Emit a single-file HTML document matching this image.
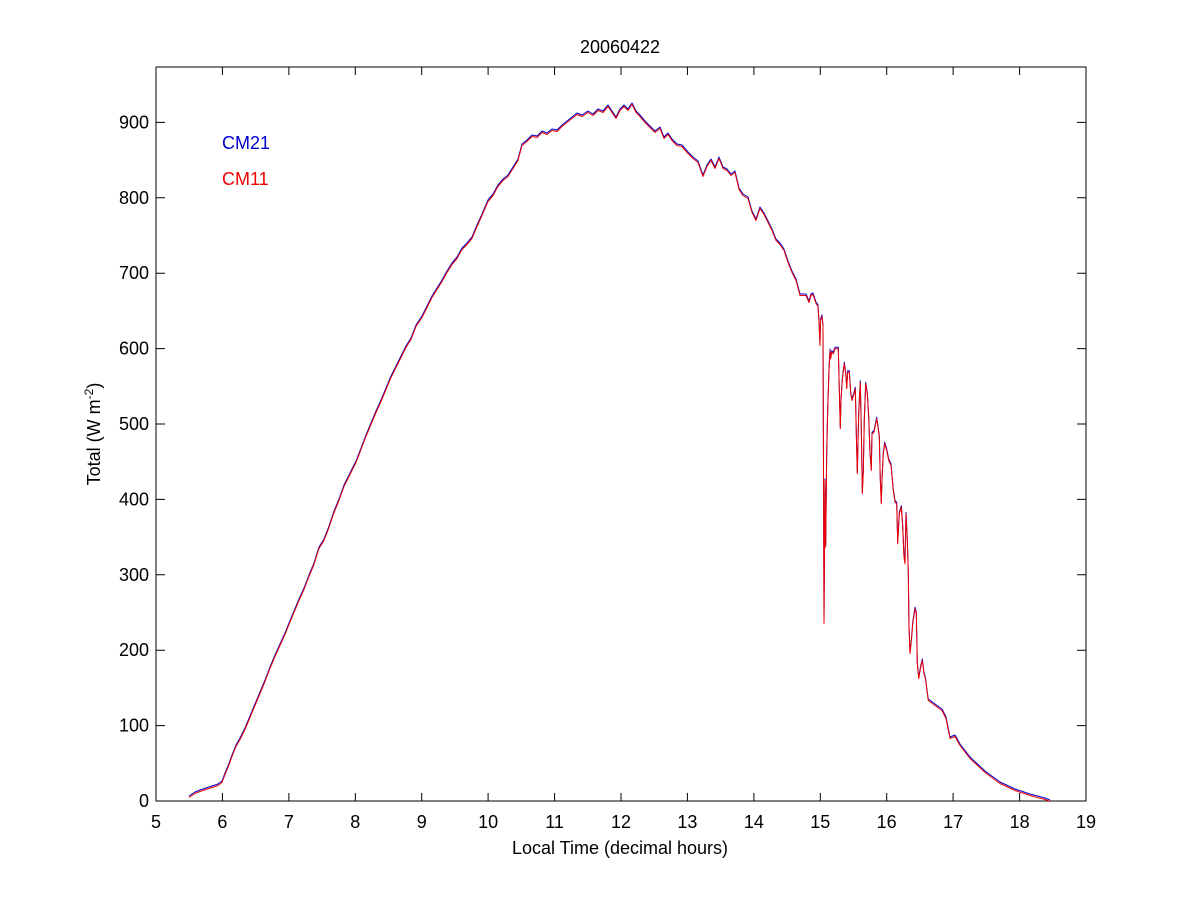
<!DOCTYPE html>
<html><head><meta charset="utf-8"><style>
body{margin:0;background:#fff;}
svg{display:block;font-family:"Liberation Sans",Arial,sans-serif;}
</style></head><body>
<svg width="1200" height="900" viewBox="0 0 1200 900">
<defs>
<polyline id="c" points="189,797 195,793 200,791 206,789 212,787 218,785 222,782 225,774 228,767 232,756 236,746 240,739 245,729 250,717 255,705 260,693 265,681 270,668 275,656 280,645 285,634 289,624 294,612 299,600 304,589 309,576 314,564 319,548 324,540 329,527 334,512 339,500 344,486 350,474 356,462 361,449 366,436 371,424 376,412 381,401 386,389 391,377 396,367 401,357 406,347 411,339 416,326 422,317 427,307 432,297 437,289 442,281 447,272 452,264 457,258 462,249 467,244 472,238 477,226 482,215 488,201 493,195 498,186 503,180 508,176 513,168 518,160 522,145 527,141 532,136 537,137 542,132 547,134 552,130 557,131 562,126 567,122 572,118 577,114 582,116 588,112 593,115 598,110 603,112 608,106 612,112 616,118 620,110 624,106 628,110 632,104 636,112 640,116 645,122 650,127 655,132 660,128 664,138 668,134 672,140 677,145 682,146 688,153 693,158 698,162 703,176 707,166 711,160 715,168 719,158 723,168 727,170 731,175 735,172 739,189 743,195 748,198 752,212 756,220 760,208 764,214 768,222 772,230 776,240 780,244 784,250 788,262 792,272 796,280 800,295 806,295 809,302 811,295 813,294 816,303 818,306 819,322 820,345 820.5,320 822,316 823,326 823.5,470 824,623 825,480 825.7,546.7 826.7,453.3 827.7,410 829,370 830,350 830.7,358.3 831.7,351.7 833.3,353.3 835,348.3 838.3,348.3 839.3,390 840.3,428.3 841,400 842.3,380 844.3,363.3 845.7,373.3 846.7,388.3 847.7,371.7 849.3,371.7 850.7,393.3 852,400 854,393.3 855.3,388.3 856.3,433.3 857.3,473.3 858.7,413.3 860.3,381.7 861.3,430 862.3,493.3 863.3,471.7 864.3,420 865.7,383.3 867.3,393.3 868.7,416.7 870,453.3 871.3,470 872,433.3 874,431.7 876.7,418.3 878,426.7 879.3,436.7 880.3,480 881.3,503.3 882,480 883.3,453.3 884.7,443.3 886.7,450 888.7,460 891,465 893.3,490 895,501.7 896.7,503.3 897.7,543.3 899.3,513.3 901.3,506.7 902.7,526.7 904,556.7 905,563.3 906,513.3 907.3,540 908.3,573.3 909,626.7 910,653.3 911.7,636.7 912.7,623.3 915,608.3 916.3,613.3 917.3,663.3 918.7,678.3 920.7,666.7 922.3,660 924,673.3 925.7,680 927.3,693.3 928.3,700 935,705 942,710 946,718 950,738 955,736 960,745 970,758 985,772 1000,783 1015,790 1030,795 1045,799 1050,801"/>
</defs>
<rect width="1200" height="900" fill="#fff"/>
<rect x="156" y="67" width="930" height="734" fill="#fff" stroke="#000" stroke-width="1"/>
<g stroke="#000" stroke-width="1">
<path d="M156,801v-8M222.4,801v-8M288.9,801v-8M355.3,801v-8M421.7,801v-8M488.1,801v-8M554.6,801v-8M621,801v-8M687.4,801v-8M753.9,801v-8M820.3,801v-8M886.7,801v-8M953.1,801v-8M1019.6,801v-8M1086,801v-8"/>
<path d="M156,67v8M222.4,67v8M288.9,67v8M355.3,67v8M421.7,67v8M488.1,67v8M554.6,67v8M621,67v8M687.4,67v8M753.9,67v8M820.3,67v8M886.7,67v8M953.1,67v8M1019.6,67v8M1086,67v8"/>
<path d="M156,801h9M156,725.6h9M156,650.2h9M156,574.8h9M156,499.4h9M156,424h9M156,348.6h9M156,273.2h9M156,197.8h9M156,122.4h9"/>
<path d="M1086,801h-9M1086,725.6h-9M1086,650.2h-9M1086,574.8h-9M1086,499.4h-9M1086,424h-9M1086,348.6h-9M1086,273.2h-9M1086,197.8h-9M1086,122.4h-9"/>
</g>
<g font-size="18" fill="#000" text-anchor="middle">
<text x="156" y="828">5</text><text x="222.4" y="828">6</text><text x="288.9" y="828">7</text><text x="355.3" y="828">8</text><text x="421.7" y="828">9</text><text x="488.1" y="828">10</text><text x="554.6" y="828">11</text><text x="621" y="828">12</text><text x="687.4" y="828">13</text><text x="753.9" y="828">14</text><text x="820.3" y="828">15</text><text x="886.7" y="828">16</text><text x="953.1" y="828">17</text><text x="1019.6" y="828">18</text><text x="1086" y="828">19</text>
</g>
<g font-size="18" fill="#000" text-anchor="end">
<text x="149" y="807">0</text><text x="149" y="731.6">100</text><text x="149" y="656.2">200</text><text x="149" y="580.8">300</text><text x="149" y="505.4">400</text><text x="149" y="430">500</text><text x="149" y="354.6">600</text><text x="149" y="279.2">700</text><text x="149" y="203.8">800</text><text x="149" y="128.4">900</text>
</g>
<text x="620" y="53" font-size="18" text-anchor="middle">20060422</text>
<text x="620" y="854" font-size="18" text-anchor="middle">Local Time (decimal hours)</text>
<text transform="translate(100,434) rotate(-90)" font-size="18" text-anchor="middle">Total (W m<tspan dy="-7" font-size="12">-2</tspan><tspan dy="7">)</tspan></text>
<text x="222" y="149" font-size="18" fill="#0000cc">CM21</text>
<text x="222" y="185" font-size="18" fill="#ee0000">CM11</text>
<g fill="none" stroke-width="1" stroke-linejoin="round">
<use href="#c" stroke="#0000cc" transform="translate(0,-1)"/>
<use href="#c" stroke="#ee0000" transform="translate(0,0.5)"/>
</g>
</svg>
</body></html>
